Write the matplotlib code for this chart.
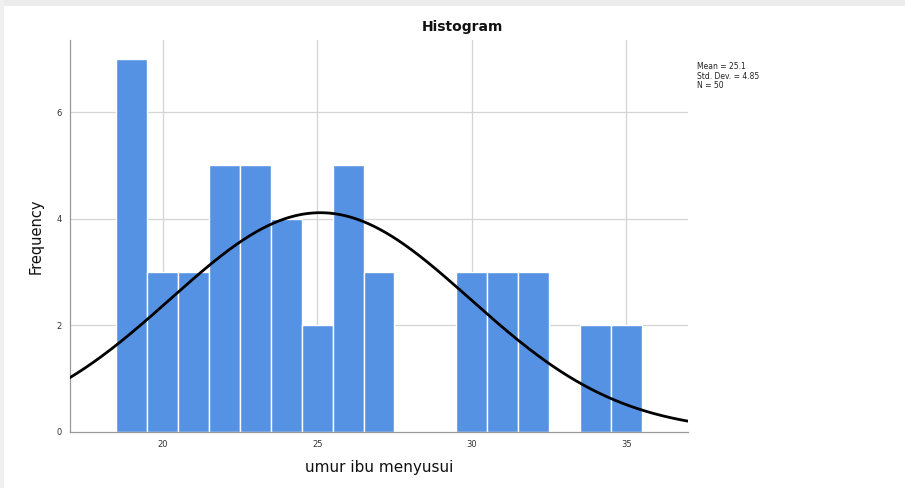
import numpy as np
import matplotlib
matplotlib.use("Agg")
import matplotlib.pyplot as plt
from matplotlib.patches import Rectangle

ages = [19, 20, 21, 22, 23, 24, 25, 26, 27, 28, 29, 30, 31, 32, 33, 34, 35]
counts = [7, 3, 3, 5, 5, 4, 2, 5, 3, 0, 0, 3, 3, 3, 0, 2, 2]
mean_val = 25.1
std_val = 4.85
n_val = 50
x_ticks = [20, 25, 30, 35]
y_ticks = [0, 2, 4, 6]

fig = plt.figure(figsize=(9.05, 4.88), dpi=100)
fig.patch.set_facecolor("white")
fig.patches.append(Rectangle((0, 0.988), 1, 0.012, transform=fig.transFigure,
                             facecolor="#ececec", edgecolor="none", zorder=0))
fig.patches.append(Rectangle((0, 0), 0.004, 1, transform=fig.transFigure,
                             facecolor="#f0f0f0", edgecolor="none", zorder=0))
ax = fig.add_axes([0.0773, 0.1148, 0.683, 0.803])

grid_c = "#d4d4d4"
for xt in x_ticks:
    ax.axvline(xt, color=grid_c, lw=0.9, zorder=0)
for yt in y_ticks[1:]:
    ax.axhline(yt, color=grid_c, lw=0.9, zorder=0)

ax.bar(ages, counts, width=1.0, color="#5592e3", edgecolor="white", linewidth=1.0, zorder=2)

xs = np.linspace(17, 37, 400)
ys = n_val * 1.0 / (std_val * np.sqrt(2 * np.pi)) * np.exp(-0.5 * ((xs - mean_val) / std_val) ** 2)
ax.plot(xs, ys, color="black", lw=2.0, zorder=3)

ax.set_xlim(17, 37)
ax.set_ylim(0, 7.35)
ax.set_xticks(x_ticks)
ax.set_yticks(y_ticks)
ax.tick_params(axis="both", length=0, labelsize=6, colors="#333333", pad=6)
for s in ["top", "right"]:
    ax.spines[s].set_visible(False)
for s in ["left", "bottom"]:
    ax.spines[s].set_color("#999999")
    ax.spines[s].set_linewidth(0.9)

fig.text(0.511, 0.945, "Histogram", fontsize=10, fontweight="bold", ha="center", va="center",
         color="#111111")
ax.set_xlabel("umur ibu menyusui", fontsize=11, labelpad=8, color="#111111")
ax.set_ylabel("Frequency", fontsize=10.5, labelpad=9, color="#111111")

fig.text(0.770, 0.873, "Mean = %.1f\nStd. Dev. = %.2f\nN = %d" % (mean_val, std_val, n_val),
         fontsize=5.5, va="top", ha="left", linespacing=1.1, color="#222222")

fig.savefig("out.png", dpi=100, facecolor="white")
